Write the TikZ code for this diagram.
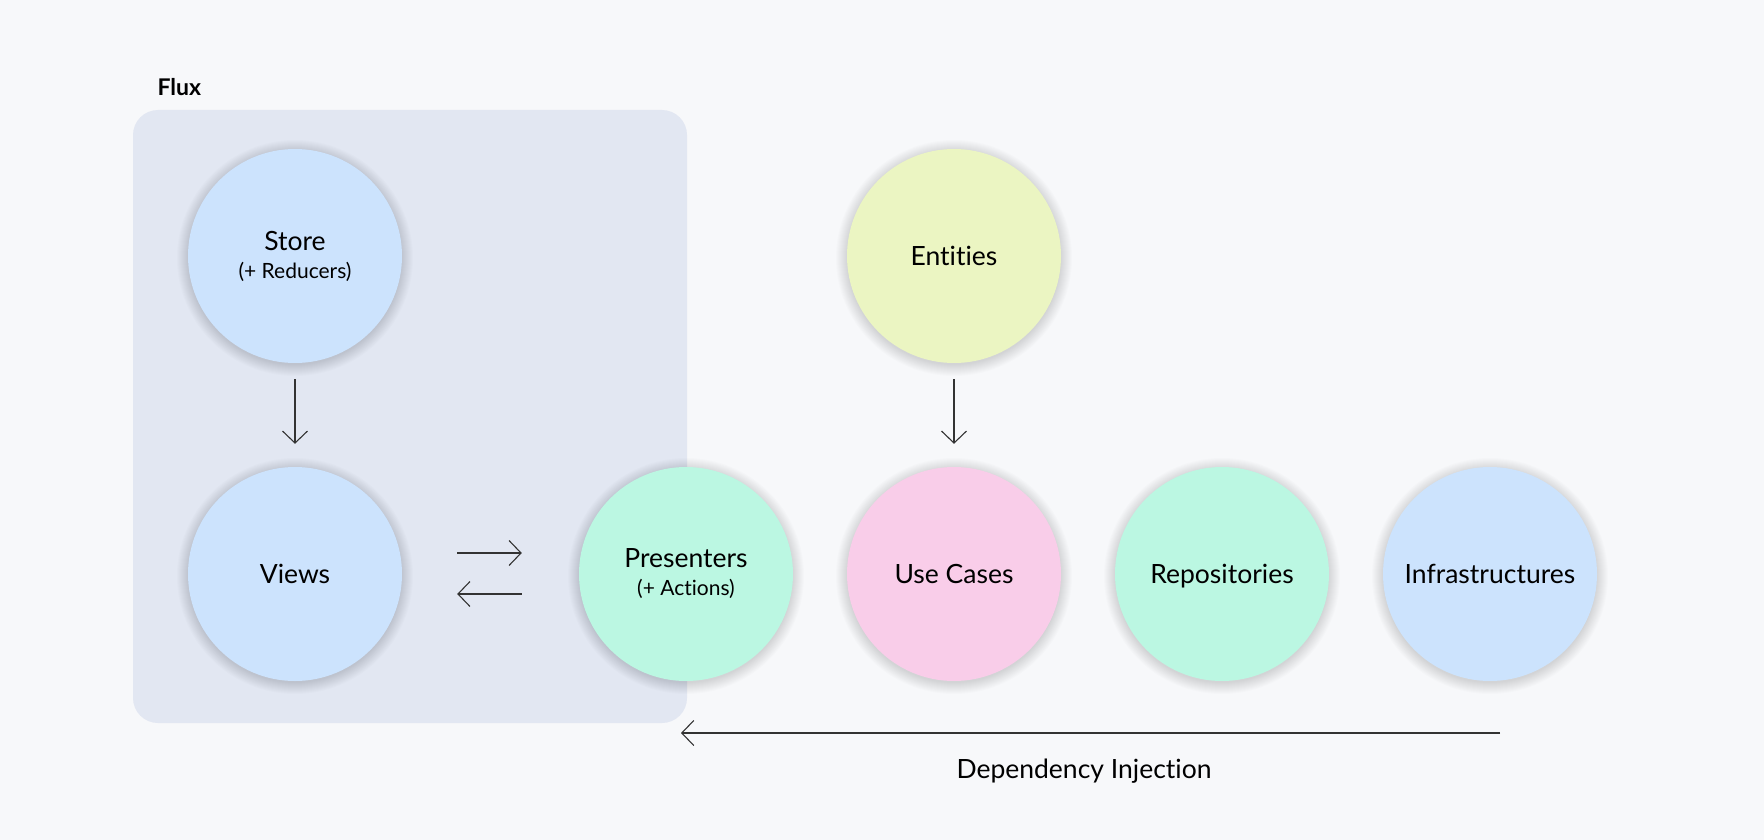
\documentclass[tikz,border=0pt]{standalone}
\usepackage{fontspec}
\setmainfont{Lato}[Ligatures=NoCommon]
\usepackage{tikz}
\usetikzlibrary{positioning, arrows.meta}

\definecolor{fondo}{HTML}{F7F8FA}
\definecolor{caja}{HTML}{E2E7F2}
\definecolor{azul}{HTML}{CCE3FD}
\definecolor{verde}{HTML}{BBF7E2}
\definecolor{amarillo}{HTML}{EBF5C2}
\definecolor{rosa}{HTML}{F9CDE9}
\definecolor{linea}{HTML}{333333}

\newcommand{\textochico}[1]{{\fontsize{21}{25}\selectfont #1}}

\tikzset{
    capa/.style={circle, minimum size=214pt, inner sep=0pt, align=center,
        font=\fontsize{26.5}{31}\selectfont, text=black},
    capauna/.style={capa, text height=18pt, text depth=0pt},
    flecha/.style={draw=linea, line width=1.1pt, -{Straight Barb[length=12pt,width=25pt]}}
}

\begin{document}
\begin{tikzpicture}[x=1pt, y=-1pt]
        % Fondo
        \fill[fondo] (0,0) rectangle (1764,840);
        \useasboundingbox (0,0) rectangle (1764,840);
        % Caja Flux
        \fill[caja, rounded corners=25pt] (133,110) rectangle (687,723);
        \node[anchor=west, font=\fontsize{23}{26}\selectfont\bfseries] (flux) at (154,87) {Flux};
        % Sombras
        \foreach \px/\py in {295/256, 295/574, 686/574, 954/256, 954/574, 1222/574, 1490/574}
            \foreach \k in {1,...,12}
                \fill[black, opacity=0.012] (\px,\py+2) circle (106pt+\k pt);
        % Capas
        \node[capa, fill=azul] (store) at (295,256) {Store\\[-3pt]\textochico{(+ Reducers)}};
        \node[capauna, fill=azul] (views) at (295,574) {Views};
        \node[capa, fill=verde] (pres) at (686,574) {Presenters\\[-3pt]\textochico{(+ Actions)}};
        \node[capauna, fill=amarillo] (ent) at (954,256) {Entities};
        \node[capauna, fill=rosa] (uc) at (954,574) {Use Cases};
        \node[capauna, fill=verde] (repo) at (1222,574) {Repositories};
        \node[capauna, fill=azul] (infra) at (1490,574) {Infrastructures};
        % Flechas
        \draw[flecha, shorten <=16pt, shorten >=23pt] (store) -- (views);
        \draw[flecha, shorten <=16pt, shorten >=23pt] (ent) -- (uc);
        \draw[flecha] ([xshift=55pt, yshift=21pt]views.east) -- ([xshift=-57pt, yshift=21pt]pres.west);
        \draw[flecha] ([xshift=-57pt, yshift=-20pt]pres.west) -- ([xshift=55pt, yshift=-20pt]views.east);
        % Inyeccion
        \coordinate (diA) at (1500,733);
        \coordinate (diB) at (681,733);
        \draw[flecha] (diA) -- (diB);
        \node[font=\fontsize{26.5}{31}\selectfont] (di) at (1084,771) {Dependency Injection};
    \end{tikzpicture}
\end{document}
